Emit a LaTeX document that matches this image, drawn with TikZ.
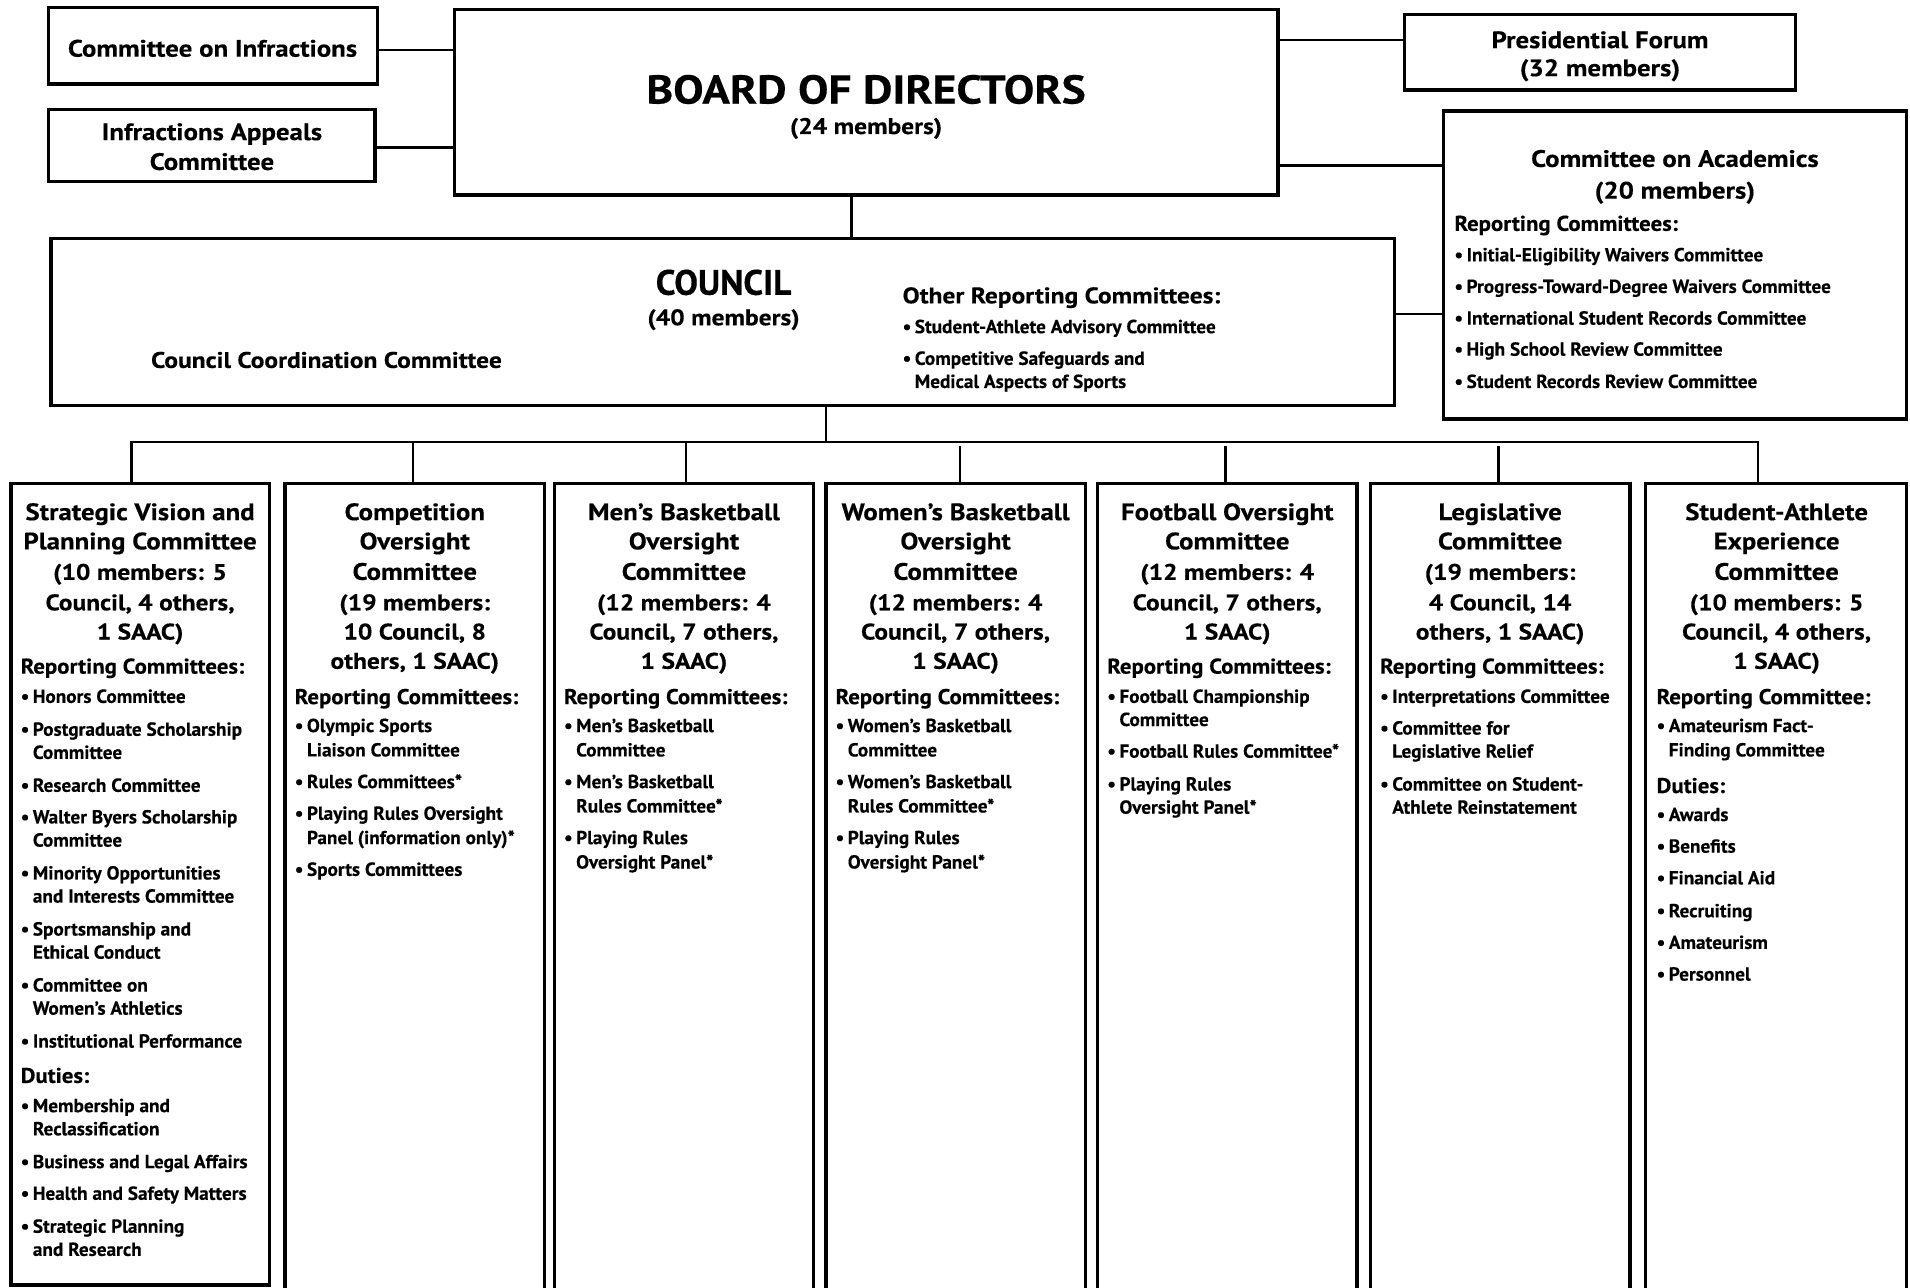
\documentclass[tikz,border=0pt]{standalone}
\usepackage{fontspec}
\setmainfont{PT Sans}[FakeStretch=1.02, BoldFeatures={FakeBold=0.35}]
\newfontfamily\tfont{PT Sans}[FakeStretch=1.13, BoldFeatures={FakeBold=0.35}]
\newfontfamily\hfont{PT Sans}[FakeStretch=1.07, BoldFeatures={FakeBold=0.35}]
\newfontfamily\cfont{PT Sans}[FakeStretch=1.0, BoldFeatures={FakeBold=0.35}]
\newcounter{nn}
\newcommand\fs[1]{\fontsize{#1}{#1}\selectfont}
\tikzset{
  box/.style={draw, line width=2.8pt, inner sep=0pt, outer sep=0pt, anchor=north west},
  conn/.style={line width=2pt, line cap=rect},
  txt/.style={inner sep=0pt, outer sep=0pt},
  ttl/.style={txt, anchor=base, font=\tfont\bfseries\fs{19.5}},
  mem/.style={txt, anchor=base, font=\tfont\bfseries\fs{18.5}},
  hdr/.style={txt, anchor=base west, font=\hfont\bfseries\fs{17.5}},
  chdr/.style={txt, anchor=base west, font=\tfont\bfseries\fs{18.5}},
  bul/.style={txt, anchor=base west, font=\bfseries\fs{15.5}},
  big/.style={txt, anchor=base, font=\tfont\bfseries\fs{33}},
  bigb/.style={txt, anchor=base, font=\cfont\bfseries\fs{29}},
}
\newcommand\Tt[3]{\stepcounter{nn}\node[ttl] (n\arabic{nn}) at (#1,#2) {#3};}
\newcommand\Mm[3]{\stepcounter{nn}\node[mem] (n\arabic{nn}) at (#1,#2) {#3};}
\newcommand\Hd[3]{\stepcounter{nn}\node[hdr] (n\arabic{nn}) at (#1,#2) {#3};}
\newcommand\Ch[3]{\stepcounter{nn}\node[chdr] (n\arabic{nn}) at (#1,#2) {#3};}
\newcommand\Bu[3]{\stepcounter{nn}\node[bul] (n\arabic{nn}) at (#1,#2) {\makebox[10pt][l]{•}#3};}
\newcommand\Co[3]{\stepcounter{nn}\node[bul] (n\arabic{nn}) at (#1+10,#2) {#3};}
\begin{document}
\begin{tikzpicture}[x=1pt,y=-1pt]
\useasboundingbox (0,0) rectangle (1568,1057);
\clip (0,0) rectangle (1568,1057);
\fill[white] (0,0) rectangle (1568,1057);
% boxes
\node[box, minimum width=270pt, minimum height=63pt] (coi) at (40,6) {};
\node[box, minimum width=268pt, minimum height=59pt] (iac) at (40,90) {};
\node[box, minimum width=676pt, minimum height=152pt] (board) at (373,8) {};
\node[box, minimum width=321pt, minimum height=62pt] (pf) at (1153,12) {};
\node[box, minimum width=380pt, minimum height=253pt] (coa) at (1185,91) {};
\node[box, minimum width=1103pt, minimum height=137pt] (council) at (42,196) {};
\node[box, minimum width=212pt, minimum height=658pt] (c1) at (9,397) {};
\node[box, minimum width=213pt, minimum height=720pt] (c2) at (234,397) {};
\node[box, minimum width=213pt, minimum height=720pt] (c3) at (455,397) {};
\node[box, minimum width=213pt, minimum height=720pt] (c4) at (678,397) {};
\node[box, minimum width=213pt, minimum height=720pt] (c5) at (901,397) {};
\node[box, minimum width=213pt, minimum height=720pt] (c6) at (1125,397) {};
\node[box, minimum width=214pt, minimum height=720pt] (c7) at (1351,397) {};
% connectors
\draw[conn] ([yshift=-3.5pt]coi.east) -- ([yshift=-3.5pt]coi.east -| board.west);
\draw[conn] ([yshift=-1.5pt]iac.east) -- ([yshift=-1.5pt]iac.east -| board.west);
\draw[conn] ([yshift=10pt]pf.west) -- ([yshift=10pt]pf.west -| board.east);
\draw[conn] ([yshift=-52pt]board.east) -- ([yshift=-52pt]board.east -| coa.west);
\draw[conn] ([yshift=6.5pt]council.east) -- ([yshift=6.5pt]council.east -| coa.west);
\draw[conn] ([xshift=-12pt]board.south) -- ([xshift=-12pt]board.south |- council.north);
\coordinate (busL) at (108,363);
\coordinate (busR) at (1443,363);
\draw[conn] ([xshift=84.5pt]council.south) -- ([xshift=84.5pt]council.south |- busL);
\draw[conn] (busL |- c1.north) -- (busL) -- (busR) -- (busR |- c7.north);
\draw[conn] ([xshift=-1.5pt]c2.north) -- ([xshift=-1.5pt]c2.north |- busL);
\draw[conn] ([xshift=1.5pt]c3.north) -- ([xshift=1.5pt]c3.north |- busL);
\draw[conn, line cap=butt] ([xshift=3.5pt]c4.north) -- ++(0,-31);
\draw[conn, line cap=butt] ([xshift=-1.5pt]c5.north) -- ++(0,-31);
\draw[conn, line cap=butt] ([xshift=-1.5pt]c6.north) -- ++(0,-31);
% top texts
\Tt{174.5}{46.5}{Committee on Infractions}
\Tt{174}{115}{Infractions Appeals}
\Tt{174}{139.5}{Committee}
\node[big] (bodt) at (711,85) {BOARD OF DIRECTORS};
\node[mem] (bodm) at (711,110) {(24 members)};
\Tt{1313.5}{39.5}{Presidential Forum}
\Tt{1313.5}{62.5}{(32 members)}
\Tt{1375}{137}{Committee on Academics}
\Tt{1375}{163}{(20 members)}
\Hd{1194}{189.5}{Reporting Committees:}
\Bu{1194}{214.5}{Initial-Eligibility Waivers Committee}
\Bu{1194}{240.5}{Progress-Toward-Degree Waivers Committee}
\Bu{1194}{266.5}{International Student Records Committee}
\Bu{1194}{292}{High School Review Committee}
\Bu{1194}{318.5}{Student Records Review Committee}
% council
\node[bigb] (cot) at (594,242) {COUNCIL};
\node[mem] (com) at (594,267) {(40 members)};
\Ch{124}{302}{Council Coordination Committee}
\Ch{741}{249}{Other Reporting Committees:}
\Bu{741}{273.5}{Student-Athlete Advisory Committee}
\Bu{741}{299.5}{Competitive Safeguards and}
\Co{741}{318.5}{Medical Aspects of Sports}
% column 1
\Tt{115}{427}{Strategic Vision and}
\Tt{115}{451}{Planning Committee}
\Mm{115}{476}{(10 members: 5}
\Mm{115}{501}{Council, 4 others,}
\Mm{115}{525}{1 SAAC)}
\Hd{17}{553}{Reporting Committees:}
\Bu{17}{577}{Honors Committee}
\Bu{17}{604}{Postgraduate Scholarship}
\Co{17}{623}{Committee}
\Bu{17}{650}{Research Committee}
\Bu{17}{676}{Walter Byers Scholarship}
\Co{17}{695}{Committee}
\Bu{17}{722}{Minority Opportunities}
\Co{17}{741}{and Interests Committee}
\Bu{17}{768}{Sportsmanship and}
\Co{17}{787}{Ethical Conduct}
\Bu{17}{814}{Committee on}
\Co{17}{833}{Women’s Athletics}
\Bu{17}{860}{Institutional Performance}
\Hd{17}{889}{Duties:}
\Bu{17}{913}{Membership and}
\Co{17}{932}{Reclassification}
\Bu{17}{959}{Business and Legal Affairs}
\Bu{17}{985}{Health and Safety Matters}
\Bu{17}{1012}{Strategic Planning}
\Co{17}{1031}{and Research}
% column 2
\Tt{340.5}{427}{Competition}
\Tt{340.5}{451}{Oversight}
\Tt{340.5}{476}{Committee}
\Mm{340.5}{501}{(19 members:}
\Mm{340.5}{525}{10 Council, 8}
\Mm{340.5}{549}{others, 1 SAAC)}
\Hd{242}{578}{Reporting Committees:}
\Bu{242}{601}{Olympic Sports}
\Co{242}{621}{Liaison Committee}
\Bu{242}{647}{Rules Committees*}
\Bu{242}{673}{Playing Rules Oversight}
\Co{242}{693}{Panel (information only)*}
\Bu{242}{719}{Sports Committees}
% column 3
\Tt{561.5}{427}{Men’s Basketball}
\Tt{561.5}{451}{Oversight}
\Tt{561.5}{476}{Committee}
\Mm{561.5}{501}{(12 members: 4}
\Mm{561.5}{525}{Council, 7 others,}
\Mm{561.5}{549}{1 SAAC)}
\Hd{463}{578}{Reporting Committees:}
\Bu{463}{601}{Men’s Basketball}
\Co{463}{621}{Committee}
\Bu{463}{647}{Men’s Basketball}
\Co{463}{667}{Rules Committee*}
\Bu{463}{693}{Playing Rules}
\Co{463}{713}{Oversight Panel*}
% column 4
\Tt{784.5}{427}{Women’s Basketball}
\Tt{784.5}{451}{Oversight}
\Tt{784.5}{476}{Committee}
\Mm{784.5}{501}{(12 members: 4}
\Mm{784.5}{525}{Council, 7 others,}
\Mm{784.5}{549}{1 SAAC)}
\Hd{686}{578}{Reporting Committees:}
\Bu{686}{601}{Women’s Basketball}
\Co{686}{621}{Committee}
\Bu{686}{647}{Women’s Basketball}
\Co{686}{667}{Rules Committee*}
\Bu{686}{693}{Playing Rules}
\Co{686}{713}{Oversight Panel*}
% column 5
\Tt{1007.5}{427}{Football Oversight}
\Tt{1007.5}{451}{Committee}
\Mm{1007.5}{476}{(12 members: 4}
\Mm{1007.5}{501}{Council, 7 others,}
\Mm{1007.5}{525}{1 SAAC)}
\Hd{909}{553}{Reporting Committees:}
\Bu{909}{577}{Football Championship}
\Co{909}{596}{Committee}
\Bu{909}{622}{Football Rules Committee*}
\Bu{909}{649}{Playing Rules}
\Co{909}{668}{Oversight Panel*}
% column 6
\Tt{1231.5}{427}{Legislative}
\Tt{1231.5}{451}{Committee}
\Mm{1231.5}{476}{(19 members:}
\Mm{1231.5}{501}{4 Council, 14}
\Mm{1231.5}{525}{others, 1 SAAC)}
\Hd{1133}{553}{Reporting Committees:}
\Bu{1133}{577}{Interpretations Committee}
\Bu{1133}{603}{Committee for}
\Co{1133}{622}{Legislative Relief}
\Bu{1133}{649}{Committee on Student-}
\Co{1133}{668}{Athlete Reinstatement}
% column 7
\Tt{1458.5}{427}{Student-Athlete}
\Tt{1458.5}{451}{Experience}
\Tt{1458.5}{476}{Committee}
\Mm{1458.5}{501}{(10 members: 5}
\Mm{1458.5}{525}{Council, 4 others,}
\Mm{1458.5}{549}{1 SAAC)}
\Hd{1360}{578}{Reporting Committee:}
\Bu{1360}{601}{Amateurism Fact-}
\Co{1360}{621}{Finding Committee}
\Hd{1360}{651}{Duties:}
\Bu{1360}{674}{Awards}
\Bu{1360}{700}{Benefits}
\Bu{1360}{726}{Financial Aid}
\Bu{1360}{753}{Recruiting}
\Bu{1360}{779}{Amateurism}
\Bu{1360}{805}{Personnel}
\end{tikzpicture}
\end{document}
